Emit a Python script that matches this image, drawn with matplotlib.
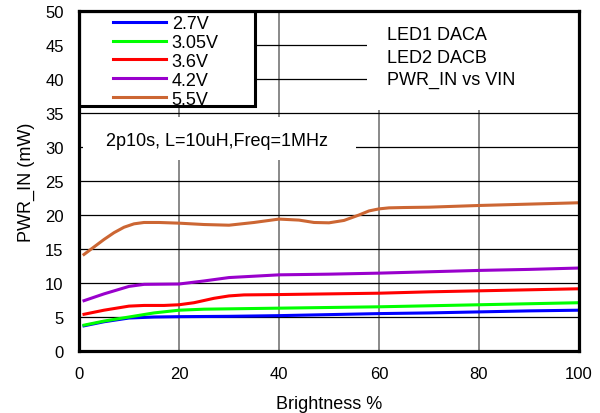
import matplotlib.pyplot as plt
from matplotlib.patches import Rectangle

plt.rcParams["font.family"] = ["Liberation Sans", "DejaVu Sans"]

# Brightness (%) vs input power (mW)
x_blue = [1, 5, 10, 15, 20, 30, 40, 50, 60, 70, 80, 90, 100]
y_blue = [3.7, 4.3, 4.85, 5.0, 5.05, 5.1, 5.2, 5.35, 5.5, 5.6, 5.75, 5.9, 6.0]

x_green = [1, 5, 10, 15, 20, 25, 30, 40, 50, 60, 70, 80, 90, 100]
y_green = [3.8, 4.4, 5.0, 5.6, 6.0, 6.15, 6.2, 6.3, 6.4, 6.5, 6.65, 6.8, 6.95, 7.1]

x_red = [1, 5, 10, 13, 17, 20, 23, 27, 30, 33, 40, 50, 60, 70, 80, 90, 100]
y_red = [5.4, 6.0, 6.6, 6.7, 6.7, 6.8, 7.1, 7.75, 8.1, 8.25, 8.3, 8.4, 8.5, 8.7, 8.85, 9.0, 9.15]

x_purple = [1, 5, 10, 13, 20, 25, 30, 35, 40, 50, 60, 70, 80, 90, 100]
y_purple = [7.4, 8.4, 9.5, 9.8, 9.85, 10.3, 10.8, 11.0, 11.2, 11.3, 11.45, 11.65, 11.85, 12.0, 12.2]

x_brown = [1, 3, 5, 7, 9, 11, 13, 16, 20, 25, 30, 35, 40, 44, 47, 50, 53, 56, 58, 60, 62,
           65, 70, 80, 90, 100]
y_brown = [14.2, 15.3, 16.4, 17.4, 18.2, 18.7, 18.9, 18.9, 18.8, 18.6, 18.5, 18.9, 19.4,
           19.25, 18.9, 18.85, 19.2, 20.0, 20.6, 20.9, 21.05, 21.1, 21.15, 21.4, 21.6, 21.8]

labels = ["2.7V", "3.05V", "3.6V", "4.2V", "5.5V"]
colors = ["#0000ff", "#00ff00", "#ff0000", "#9900cc", "#cc6633"]
series = [(x_blue, y_blue), (x_green, y_green), (x_red, y_red),
          (x_purple, y_purple), (x_brown, y_brown)]

fig = plt.figure(figsize=(6.0, 4.14), dpi=100)
ax = fig.add_axes([79 / 600, 1 - 352 / 414, 500 / 600, 340 / 414])

handles = []
for (xs, ys), lab, col in zip(series, labels, colors):
    h, = ax.plot(xs, ys, color=col, lw=2.2, label=lab, zorder=3)
    handles.append(h)

ax.set_xlim(0, 100)
ax.set_ylim(0, 50)
ax.set_xticks(range(0, 101, 20))
ax.set_yticks(range(0, 51, 5))
ax.tick_params(length=0, labelsize=12, pad=11)
ax.set_axisbelow(True)
ax.xaxis.grid(True, color="#808080", lw=1.3)
ax.yaxis.grid(True, color="black", lw=0.9)
for sp in ax.spines.values():
    sp.set_linewidth(2.3)
    sp.set_zorder(5)

ax.set_xlabel("Brightness %", fontsize=13, labelpad=10)
ax.set_ylabel("PWR_IN (mW)", fontsize=13, labelpad=7.5)

# white boxes covering the grid (legend, title block, note)
ax.add_patch(Rectangle((0, 0.7206), 0.352, 0.2794, transform=ax.transAxes,
                       facecolor="white", edgecolor="black", lw=2.2, zorder=4))
ax.add_patch(Rectangle((0.576, 0.7088), 0.424, 0.2912, transform=ax.transAxes,
                       facecolor="white", edgecolor="none", zorder=2))
ax.add_patch(Rectangle((0.008, 0.562), 0.546, 0.126, transform=ax.transAxes,
                       facecolor="white", edgecolor="none", zorder=2))

leg = ax.legend(handles=handles, loc="upper left", bbox_to_anchor=(0.068, 1 - 4 / 340),
                frameon=False, fontsize=13, handlelength=2.95, handletextpad=0.3,
                labelspacing=0.105, borderpad=0.0, borderaxespad=0.0)
leg.set_zorder(6)

title_lines = ["LED1 DACA", "LED2 DACB", "PWR_IN vs VIN"]
title_y = [0.9176, 0.8509, 0.7853]
for txt, ty in zip(title_lines, title_y):
    ax.text(0.616, ty, txt, transform=ax.transAxes, fontsize=13,
            va="baseline", ha="left", zorder=6)
ax.text(0.276, 0.618, "2p10s, L=10uH,Freq=1MHz", transform=ax.transAxes,
        fontsize=13, va="center", ha="center", zorder=6)

fig.savefig("out.png", dpi=100)
